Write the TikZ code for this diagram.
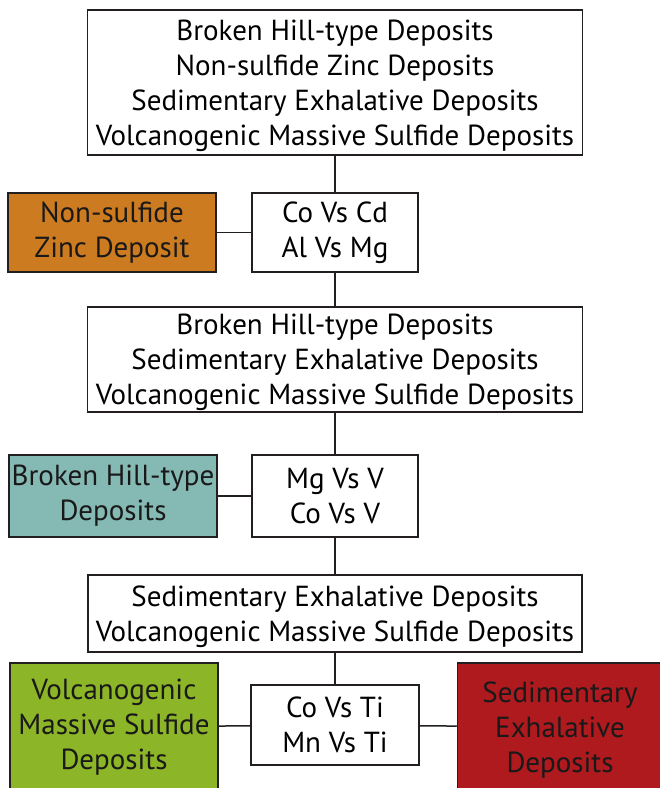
\documentclass[tikz,border=0pt]{standalone}
\usepackage{fontspec}
\setmainfont{PT Sans}
\usetikzlibrary{positioning}

\definecolor{nszorange}{RGB}{204,123,32}
\definecolor{bhteal}{RGB}{133,185,180}
\definecolor{vmsgreen}{RGB}{141,181,40}
\definecolor{sedexred}{RGB}{174,26,30}
\definecolor{edge}{RGB}{35,31,32}

\begin{document}
\begin{tikzpicture}[x=1pt,y=-1pt,box/.style={draw=edge,line width=1.5pt,fill=white,align=center,inner sep=0pt,font=\fontsize{29}{35}\selectfont},wide/.style={box,minimum width=495pt,text depth=0pt},test/.style={box,minimum width=166pt,minimum height=80pt},leaf/.style={box,minimum width=208pt,text=black!90},link/.style={draw=edge,line width=1.5pt}]
\useasboundingbox (0,0) rectangle (660,788);
\node[wide,minimum height=145pt] (n0) at (335,82.5) {Broken Hill-type Deposits\\Non-sulfide Zinc Deposits\\Sedimentary Exhalative Deposits\\Volcanogenic Massive Sulfide Deposits};
\node[test,minimum height=79pt] (n1) at (335,232.5) {Co Vs Cd\\Al Vs Mg};
\node[leaf,fill=nszorange,minimum height=79pt] (nsz) at (112,232.5) {Non-sulfide\\Zinc Deposit};
\node[wide,minimum height=105pt] (n2) at (335,359.5) {Broken Hill-type Deposits\\Sedimentary Exhalative Deposits\\Volcanogenic Massive Sulfide Deposits};
\node[test,minimum height=82pt] (n3) at (335,496) {Mg Vs V\\Co Vs V};
\node[leaf,fill=bhteal,minimum height=82pt] (bht) at (113,496) {Broken Hill-type\\Deposits};
\node[wide,minimum width=494pt,minimum height=77pt] (n4) at (335,613.5) {Sedimentary Exhalative Deposits\\Volcanogenic Massive Sulfide Deposits};
\node[test,minimum width=168pt] (n5) at (335,725) {Co Vs Ti\\Mn Vs Ti};
\node[leaf,fill=vmsgreen,minimum height=128pt] (vms) at (114,727) {Volcanogenic\\Massive Sulfide\\Deposits};
\node[leaf,fill=sedexred,minimum width=205pt,minimum height=128pt,text depth=0pt] (sedex) at (560,727) {Sedimentary\\Exhalative\\Deposits};
% connectors
\draw[link] (n0) -- (n1);
\draw[link] (n1) -- (n2);
\draw[link] (n2) -- (n3);
\draw[link] (n3) -- (n4);
\draw[link] (n4) -- (n5);
\draw[link] (nsz) -- (n1);
\draw[link] (bht) -- (n3);
\draw[link] (vms) -- (n5);
\draw[link] (n5) -- (sedex);
\end{tikzpicture}
\end{document}
